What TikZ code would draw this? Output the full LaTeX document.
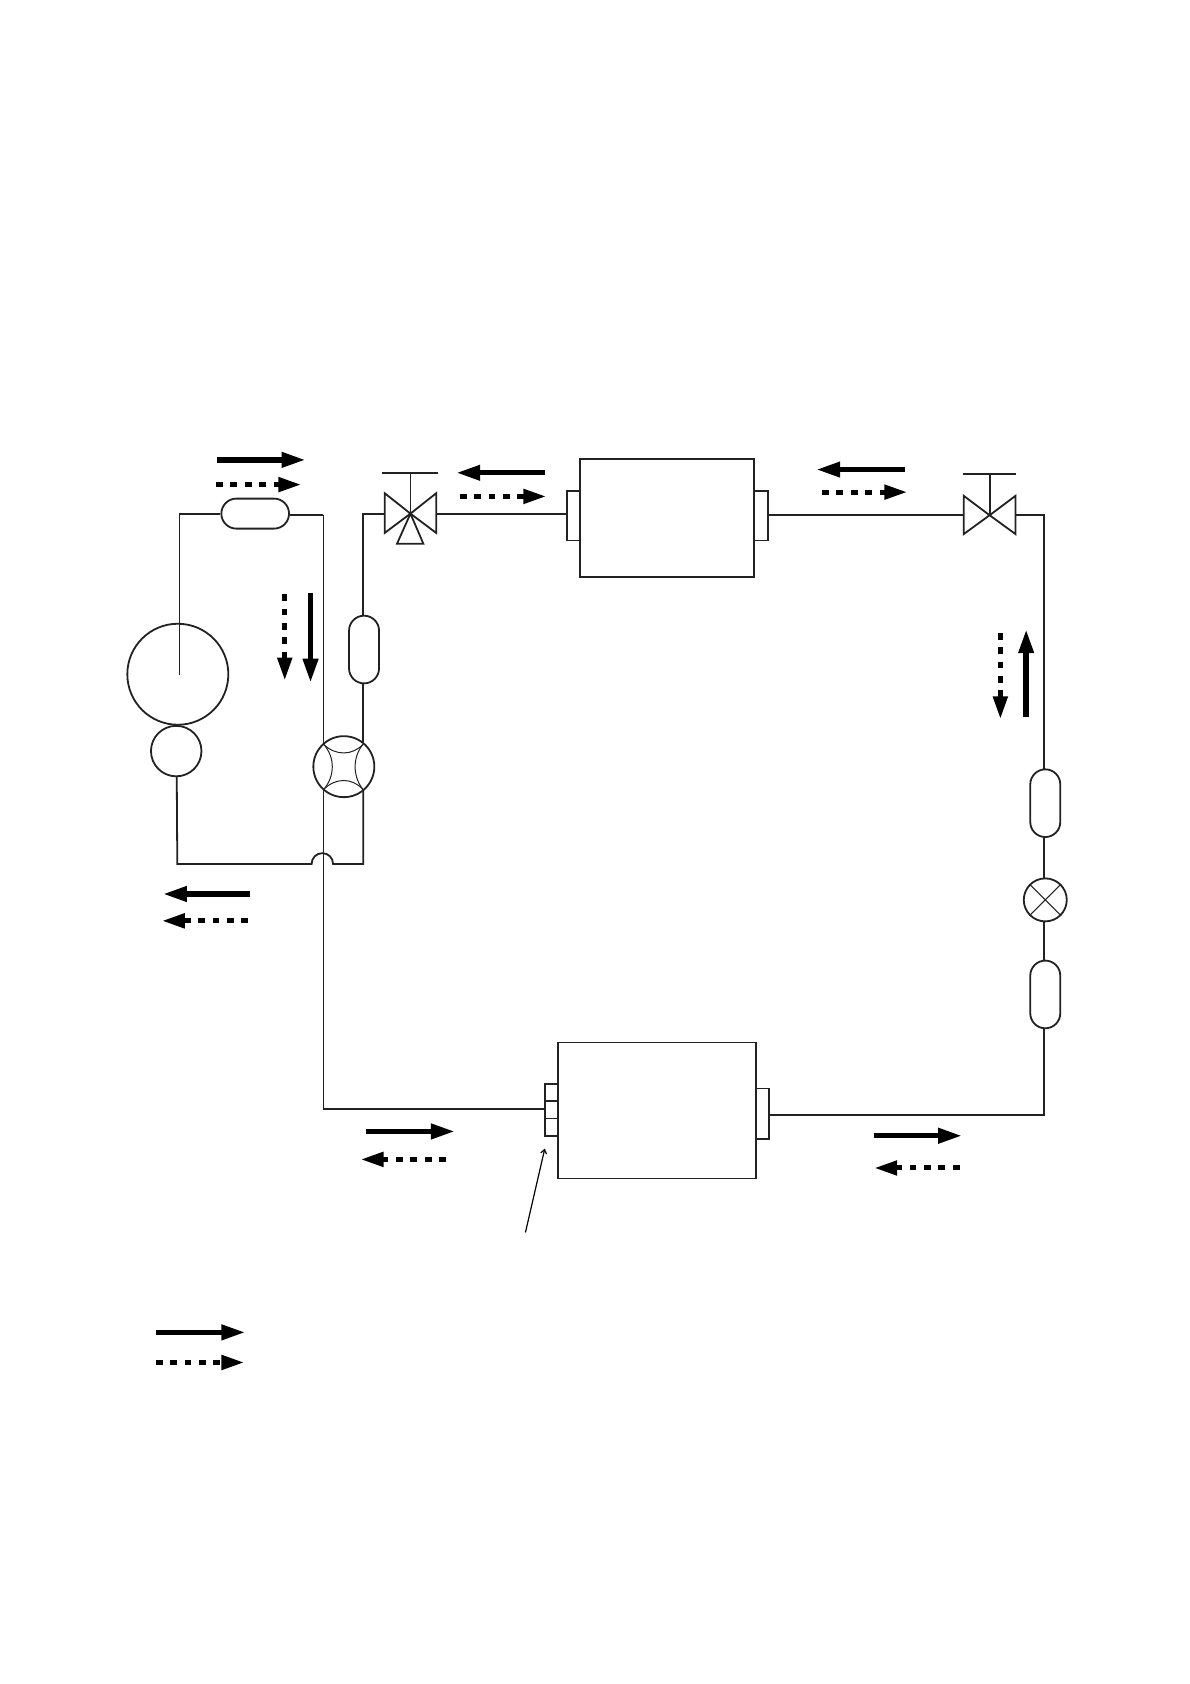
\documentclass[tikz,border=0pt]{standalone}
\usetikzlibrary{arrows.meta,calc,shapes.misc}
\definecolor{ink}{HTML}{222222}
\tikzset{
  px/.style={x=1.0745pt,y=-1.0745pt},
  pipe/.style={draw=ink,line width=1.8pt,line join=miter},
  fine/.style={draw=ink,line width=1pt},
  unit/.style={draw=ink,line width=1.8pt,fill=white,rectangle,inner sep=0pt,minimum width=#1},
  disc/.style={draw=ink,line width=1.8pt,fill=white,circle,inner sep=0pt,minimum size=#1},
  pillh/.style={draw=ink,line width=1.8pt,fill=white,rounded rectangle,inner sep=0pt,minimum width=67.7pt,minimum height=30pt},
  pillv/.style={draw=ink,line width=1.8pt,fill=white,rounded rectangle,rotate=90,inner sep=0pt,minimum width=67.7pt,minimum height=30pt},
  solidflow/.style={draw=black,line width=5.4pt,shorten >=-1.5pt,-{Triangle[length=24pt,width=14.5pt]}},
  dashflow/.style={draw=black,line width=5pt,dash pattern=on 6.8pt off 7.6pt,shorten >=-1.5pt,-{Triangle[length=23pt,width=14pt]}},
}
\begin{document}
\begin{tikzpicture}[px]
\useasboundingbox (0pt,0pt) rectangle (1190pt,-1684pt);
\fill[white] (0pt,0pt) rectangle (1190pt,-1684pt);

% corner and junction coordinates
\coordinate (v1) at (382,478);
\coordinate (v2) at (921,479.5);
\coordinate (fw) at (320,713.5);
\coordinate (fwTL) at (301,692.5);
\coordinate (fwTR) at (338,692.5);
\coordinate (fwBL) at (301,735);
\coordinate (fwBR) at (338,735);
\coordinate (tl) at (167,478);
\coordinate (cEnd) at (167,628);
\coordinate (tr) at (301,479);
\coordinate (rTop) at (338,478);
\coordinate (v2R) at (945,479.5);
\coordinate (cTR) at (971.8,479.5);
\coordinate (cBR) at (971.8,1037.5);
\coordinate (cBL) at (301,1032);
\coordinate (sBot) at (165,804);
\coordinate (bL) at (290,804);
\coordinate (bR) at (310,804);
\coordinate (brC) at (338,804);
\coordinate (noteA) at (489,1147);
\coordinate (noteB) at (507,1069);

% pipes
\draw[pipe] (fwTL) -- (tr);
\draw[pipe] (fwBL) -- (cBL) -- (507,1032);
\draw[pipe] (fwTR) -- (rTop) -- (358,478);
\draw[pipe] (406,478) -- (528,478);
\draw[pipe] (715,479.5) -- (897,479.5);
\draw[pipe] (v2R) -- (cTR) -- (cBR) -- (716,1037.5);
\draw[pipe] (164.5,723) -- (sBot) -- (bL) arc[start angle=180,end angle=360,radius=10] -- (brC) -- (fwBR);

% compressor
\node[disc=101pt] (comp) at (165.5,627.5) {};
\draw[pipe] (tl) -- (cEnd);
\node[disc=50.5pt] (acc) at (164,699) {};

% pills
\node[pillh] (pa) at (237.5,478) {};
\draw[pipe] (tl) -- (pa.west |- tl);
\draw[pipe] (pa.east |- tr) -- (tr);
\node[pillv] (pb) at (338.8,604.5) {};
\node[pillv] (pc) at (972.8,747.5) {};
\node[pillv] (pd) at (972.8,925.5) {};

% four-way valve
\node[disc=61pt] (four) at (fw) {};
\draw[fine] (fwTL) .. controls ($(fw)+(-8,-10)$) and ($(fw)+(8,-10)$) .. (fwTR);
\draw[fine] (fwBL) .. controls ($(fw)+(-8,10)$) and ($(fw)+(8,10)$) .. (fwBR);
\draw[fine] (fwTL) .. controls ($(fw)+(-8,-9)$) and ($(fw)+(-8,9)$) .. (fwBL);
\draw[fine] (fwTR) .. controls ($(fw)+(8,-9)$) and ($(fw)+(8,9)$) .. (fwBR);

% three-way valve
\begin{scope}[shift={(v1)}]
  \draw[pipe] (0,0) -- (-24,-19) -- (-24,18) -- cycle;
  \draw[pipe] (0,0) -- (24,-19) -- (24,18) -- cycle;
  \draw[pipe] (0,0) -- (-12.5,28) -- (12,28) -- cycle;
  \draw[pipe] (0,0) -- (0,-38);
  \draw[pipe] (-26.5,-38) -- (26,-38);
\end{scope}

% two-way valve
\begin{scope}[shift={(v2)}]
  \draw[pipe] (0,0) -- (-24,-18) -- (-24,17.5) -- cycle;
  \draw[pipe] (0,0) -- (24,-18) -- (24,17.5) -- cycle;
  \draw[pipe] (0,0) -- (0,-38.5);
  \draw[pipe] (-25,-38.5) -- (25,-38.5);
\end{scope}

% expansion valve
\node[disc=43pt] (xv) at (972.8,837.5) {};
\draw[fine] (xv.45) -- (xv.225);
\draw[fine] (xv.135) -- (xv.315);

% indoor unit
\node[unit=13pt,minimum height=49.4pt] (p1) at (534,480) {};
\node[unit=14pt,minimum height=49.4pt] (p2) at (708.5,480) {};
\node[unit=174pt,minimum height=118.5pt] (box1) at (621,482) {};

% outdoor unit
\node[unit=13pt,minimum height=17.2pt] (q1) at (513,1017) {};
\node[unit=13pt,minimum height=17.2pt] (q2) at (513,1033) {};
\node[unit=13pt,minimum height=17.2pt] (q3) at (513,1049) {};
\node[unit=13pt,minimum height=50.5pt] (q4) at (710,1036.5) {};
\node[unit=197.8pt,minimum height=136pt] (box2) at (611.6,1033.5) {};

% pointer
\draw[draw=black,line width=1.2pt,-{Straight Barb[length=4pt,width=6pt]}] (noteA) -- (noteB);

% flow arrows
\draw[solidflow] (202,428) -- (283,428);
\draw[dashflow] (201,451) -- (279,451);
\draw[dashflow] (265,553) -- (265,632);
\draw[solidflow] (289,552) -- (289,634);
\draw[solidflow] (233,832) -- (153,832);
\draw[dashflow] (231,857) -- (152,857);
\draw[solidflow] (507,440) -- (426,440);
\draw[dashflow] (428,462) -- (507,462);
\draw[solidflow] (842,437) -- (761,437);
\draw[dashflow] (765,458) -- (843,458);
\draw[dashflow] (931,589) -- (931,668);
\draw[solidflow] (955,667) -- (955,587);
\draw[solidflow] (341,1053) -- (422,1053);
\draw[dashflow] (415,1079) -- (337,1079);
\draw[solidflow] (813,1057) -- (894,1057);
\draw[dashflow] (893,1087) -- (815,1087);
\draw[solidflow] (145,1240) -- (227,1240);
\draw[dashflow] (145,1268) -- (226,1268);
\end{tikzpicture}
\end{document}
